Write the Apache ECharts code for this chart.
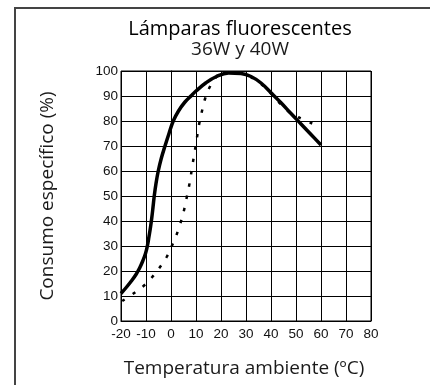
<!DOCTYPE html>
<html>
<head>
<meta charset="utf-8">
<script src="https://cdn.jsdelivr.net/npm/echarts@6/dist/echarts.min.js"></script>
<style>
  html, body { margin: 0; padding: 0; background: #fff; }
  #chart { width: 430px; height: 385px; }
</style>
</head>
<body>
<div id="chart"></div>
<script>
// Consumo específico vs temperatura ambiente, lámparas fluorescentes 36W y 40W
const xTicks = [-20, -10, 0, 10, 20, 30, 40, 50, 60, 70, 80];
const yTicks = [0, 10, 20, 30, 40, 50, 60, 70, 80, 90, 100];

// curva continua: temperatura ºC / consumo %
const solidTemp = [-20, -18, -16, -14, -12.5, -11.3, -10.2, -9.4, -8.8, -8.2, -7.7, -7.2, -6.7, -6, -5.1, -3.9, -2.4, -0.8, 0.9, 3, 5.5, 8.3, 10, 14, 18, 23, 28, 32, 36, 40, 44, 48, 52, 56, 60];
const solidCons = [11, 13.3, 15.8, 18.6, 21.3, 24, 27, 30.3, 33.8, 37.5, 41.2, 45.5, 50, 55, 60, 65, 70, 75, 80, 84, 87.5, 90.3, 92, 95.3, 97.7, 99.2, 99, 97.8, 95.2, 91.3, 87.3, 83, 78.8, 74.6, 70.4];

// curva punteada
const dotTemp = [-19.5, -15, -11, -7.5, -4.4, -1.7, 0.5, 2.4, 3.9, 5.3, 6.3, 7.3, 8.1, 8.9, 9.7, 10.5, 11.3, 12.4, 13.6, 15.5, 18.3, 23, 28, 35, 40, 43.6, 47.3, 51, 56.5];
const dotCons = [8, 11, 14, 17.6, 21.6, 25.7, 30.4, 35, 39.5, 44.7, 49.5, 54.4, 59.2, 64.3, 69.1, 74.1, 79, 84, 88.8, 93.6, 97.7, 99.3, 99, 95.5, 91, 87, 83.5, 81.5, 79];

const pairs = (xs, ys) => xs.map((x, i) => [x, ys[i]]);

const chart = echarts.init(document.getElementById('chart'), null, { renderer: 'canvas' });

const labelFont = { fontFamily: 'Open Sans', fontSize: 19, fontWeight: 'normal', color: '#1a1a1a' };

chart.setOption({
  animation: false,
  backgroundColor: '#fff',
  title: [
    { text: 'Lámparas fluorescentes', left: 235, top: 14, textAlign: 'center',
      textStyle: { fontFamily: 'Open Sans', fontSize: 20, fontWeight: 'normal', color: '#000' } },
    { text: '36W y 40W', left: 235, top: 35, textAlign: 'center', textStyle: labelFont },
    { text: 'Temperatura ambiente (ºC)', left: 239, top: 354, textAlign: 'center', textStyle: labelFont }
  ],
  graphic: [
    {
      type: 'rect', silent: true,
      shape: { x: 15, y: 8, width: 500, height: 500 },
      style: { fill: 'none', stroke: '#444', lineWidth: 2 }
    }
  ],
  grid: { left: 121, top: 71, width: 250, height: 250, show: true, borderColor: '#000', borderWidth: 1, containLabel: false },
  xAxis: {
    type: 'value', min: xTicks[0], max: xTicks[xTicks.length - 1], interval: 10,
    axisLine: { show: true, lineStyle: { color: '#000', width: 1 } },
    axisTick: { show: false },
    axisLabel: { margin: 6, fontFamily: 'Liberation Sans', fontSize: 13.5, color: '#111' },
    splitLine: { show: true, lineStyle: { color: '#000', width: 1 } }
  },
  yAxis: {
    type: 'value', min: yTicks[0], max: yTicks[yTicks.length - 1], interval: 10,
    name: 'Consumo específico (%)', nameLocation: 'middle', nameGap: 64,
    nameTextStyle: labelFont,
    axisLine: { show: true, lineStyle: { color: '#000', width: 1 } },
    axisTick: { show: false },
    axisLabel: { margin: 3, fontFamily: 'Liberation Sans', fontSize: 13.5, color: '#111' },
    splitLine: { show: true, lineStyle: { color: '#000', width: 1 } }
  },
  series: [
    {
      type: 'line', data: pairs(dotTemp, dotCons), smooth: 0.4, symbol: 'none',
      lineStyle: { color: '#000', width: 2.5, type: [3, 9.5], cap: 'butt' }, z: 3
    },
    {
      type: 'line', data: pairs(solidTemp, solidCons), smooth: 0.4, symbol: 'none',
      lineStyle: { color: '#000', width: 3.5 }, z: 4
    }
  ]
});
</script>
</body>
</html>
